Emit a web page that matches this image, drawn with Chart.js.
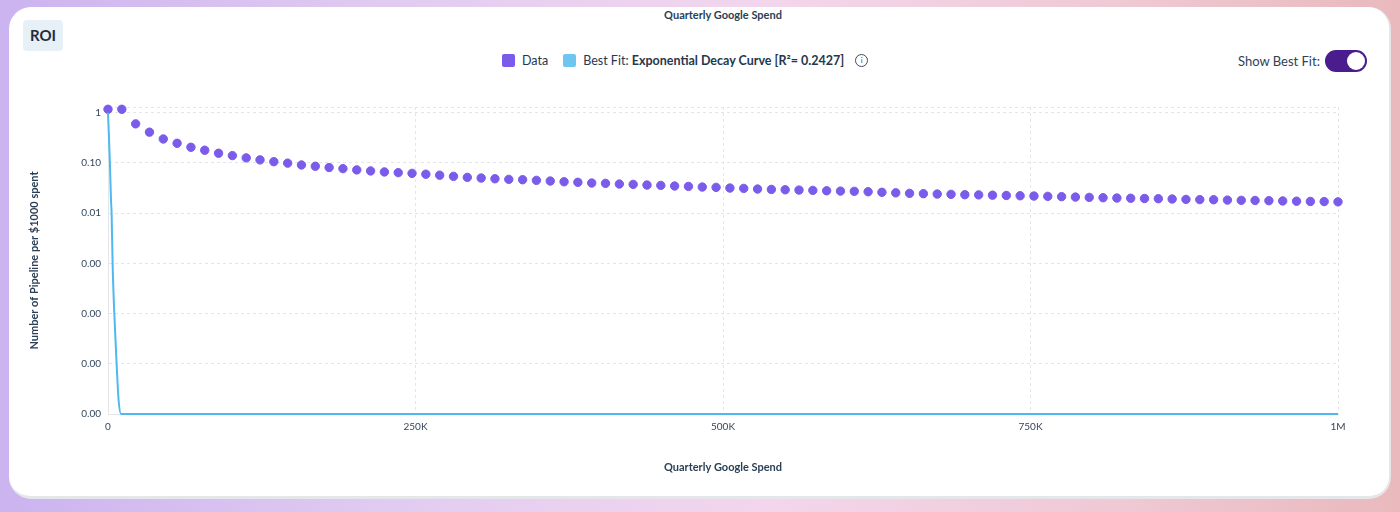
<!DOCTYPE html>
<html>
<head>
<meta charset="utf-8">
<script src="https://cdn.jsdelivr.net/npm/chart.js@4/dist/chart.umd.min.js"></script>
<style>
  html, body { margin: 0; padding: 0; }
  body {
    width: 1400px; height: 512px; position: relative; overflow: hidden;
    font-family: Lato, 'Open Sans', sans-serif; color: #25384d;
    background: linear-gradient(90deg, #cbb4ef 0%, #e2cdf1 30%, #f3d6ec 55%, #efc9d4 80%, #e9b9bd 100%);
  }
  .card {
    position: absolute; left: 9px; top: 7px; width: 1380px; height: 489px;
    background: #fff; border-radius: 22px;
    border-right: 2px solid #e4e6ea; border-bottom: 3px solid #e4e6ea;
  }
  .roi {
    position: absolute; left: 23px; top: 20px; width: 40px; height: 31px;
    background: #e8f0f7; border-radius: 4px;
    font-weight: 700; font-size: 15px; line-height: 31px; text-align: center; color: #1f2d3d;
  }
  .top-title {
    position: absolute; left: 0; width: 1446px; top: 8px; text-align: center;
    font-size: 11px; font-weight: 700; color: #2a3f55;
  }
  .legend {
    position: absolute; top: 53px; left: 502px; font-size: 12.5px; color: #25384d;
    display: flex; align-items: center; white-space: nowrap;
  }
  .sw { width: 13px; height: 13px; border-radius: 2px; display: inline-block; margin-right: 7px; }
  .info {
    display: inline-block; width: 11px; height: 11px; border: 1px solid #3a4d62; border-radius: 50%;
    font-size: 8px; line-height: 11px; text-align: center; margin-left: 11px; color: #3a4d62;
  }
  .toggle-label { position: absolute; top: 53px; left: 1238px; font-size: 13px; color: #2f4256; }
  .toggle {
    position: absolute; left: 1325px; top: 50px; width: 42px; height: 22px;
    background: #4a1c8e; border-radius: 11px;
  }
  .knob {
    position: absolute; right: 2px; top: 2px; width: 18px; height: 18px;
    background: #fff; border-radius: 50%;
  }
  canvas { position: absolute; left: 0; top: 0; }
</style>
</head>
<body>
<div class="card"></div>
<div class="roi">ROI</div>
<div class="top-title">Quarterly Google Spend</div>
<div class="legend">
  <span class="sw" style="background:#7a5bea"></span><span>Data</span>
  <span class="sw" style="background:#6ec6f0;margin-left:15px"></span><span>Best Fit:&nbsp;<b>Exponential Decay Curve [R²= 0.2427]</b></span>
  <span class="info">i</span>
</div>
<div class="toggle-label">Show Best Fit:</div>
<div class="toggle"><div class="knob"></div></div>
<canvas id="chart" width="1400" height="512"></canvas>
<script>
// Quarterly spend (x) for each data point
const spend = [
  0, 11236, 22472, 33708, 44944, 56180, 67416, 78652, 89888, 101124,
  112360, 123596, 134831, 146067, 157303, 168539, 179775, 191011, 202247, 213483,
  224719, 235955, 247191, 258427, 269663, 280899, 292135, 303371, 314607, 325843,
  337079, 348315, 359551, 370787, 382022, 393258, 404494, 415730, 426966, 438202,
  449438, 460674, 471910, 483146, 494382, 505618, 516854, 528090, 539326, 550562,
  561798, 573034, 584270, 595506, 606742, 617978, 629213, 640449, 651685, 662921,
  674157, 685393, 696629, 707865, 719101, 730337, 741573, 752809, 764045, 775281,
  786517, 797753, 808989, 820225, 831461, 842697, 853933, 865169, 876404, 887640,
  898876, 910112, 921348, 932584, 943820, 955056, 966292, 977528, 988764, 1000000
];

// Pipeline per $1000 spent
const pipeline = [
  1.17, 1.17, 0.60, 0.41, 0.30, 0.246, 0.205, 0.179, 0.156, 0.140,
  0.126, 0.115, 0.106, 0.099, 0.091, 0.086, 0.081, 0.077, 0.0726, 0.0693,
  0.0662, 0.0641, 0.0620, 0.0596, 0.0570, 0.0541, 0.0516, 0.0500, 0.0484, 0.0471,
  0.0463, 0.0450, 0.0436, 0.0422, 0.0411, 0.0398, 0.0392, 0.0380, 0.0374, 0.0363,
  0.0357, 0.0347, 0.0341, 0.0331, 0.0326, 0.0316, 0.0311, 0.0302, 0.0297, 0.0292,
  0.0288, 0.0284, 0.0279, 0.0275, 0.0272, 0.0267, 0.0260, 0.0254, 0.0248, 0.0244,
  0.0240, 0.0237, 0.0233, 0.0231, 0.0228, 0.0225, 0.0222, 0.0219, 0.0216, 0.0213,
  0.0209, 0.0206, 0.0203, 0.0200, 0.0198, 0.0196, 0.0194, 0.0191, 0.0188, 0.0186,
  0.0185, 0.0182, 0.0180, 0.0179, 0.0177, 0.0175, 0.0173, 0.0171, 0.0170, 0.0168
];

// Best fit curve
const fitSpend = [0, 1550, 2440, 2930, 3740, 5125, 7000, 8620, 10575, 1000000];
const fitValue = [1, 0.1, 0.018, 0.01, 0.001, 0.0001, 0.00001, 0.0000019, 0.000001, 0.000001];

const yTicks = [0.000001, 0.00001, 0.0001, 0.001, 0.01, 0.1, 1];
const yMax = 1.3;

const toPoints = (xs, ys) => xs.map((x, i) => ({ x, y: ys[i] }));

const tickFont = { family: 'Lato, sans-serif', size: 10 };
const titleFont = { family: 'Lato, sans-serif', size: 11, weight: 'bold' };

new Chart(document.getElementById('chart'), {
  type: 'scatter',
  data: {
    datasets: [
      {
        label: 'Best Fit',
        type: 'line',
        data: toPoints(fitSpend, fitValue),
        borderColor: '#4fb9ef',
        borderWidth: 2,
        pointRadius: 0,
        cubicInterpolationMode: 'monotone',
        clip: false
      },
      {
        label: 'Data',
        data: toPoints(spend, pipeline),
        backgroundColor: '#7a5bea',
        borderColor: '#7a5bea',
        pointRadius: 4.2,
        clip: false
      }
    ]
  },
  options: {
    responsive: false,
    animation: false,
    layout: { padding: { left: 0, top: 107, right: 62, bottom: 0 } },
    plugins: { legend: { display: false }, tooltip: { enabled: false } },
    scales: {
      x: {
        type: 'linear',
        min: 0,
        max: 1000000,
        afterFit: (scale) => { scale.height = 98; },
        ticks: {
          stepSize: 250000,
          padding: 7,
          color: '#34475c',
          font: tickFont,
          maxRotation: 0,
          callback: (v) => v === 0 ? '0' : v >= 1000000 ? (v / 1000000) + 'M' : (v / 1000) + 'K'
        },
        grid: { color: '#e3e5e9', drawTicks: false },
        border: { display: true, color: '#e3e5e9', dash: [3, 3] },
        title: {
          display: true,
          text: 'Quarterly Google Spend',
          color: '#2a3f55',
          font: titleFont,
          padding: { top: 0, bottom: 38 }
        }
      },
      y: {
        type: 'logarithmic',
        min: 0.000001,
        max: yMax,
        afterFit: (scale) => { scale.width = 108; },
        afterBuildTicks: (scale) => {
          scale.ticks = yTicks.concat([yMax]).map(v => ({ value: v }));
        },
        ticks: {
          padding: 7,
          color: '#34475c',
          font: tickFont,
          callback: (v) => v > 1 ? '' : v === 1 ? '1' : Number(v).toFixed(2)
        },
        grid: { color: '#e3e5e9', drawTicks: false },
        border: { display: true, color: '#e3e5e9', dash: [3, 3] },
        title: {
          display: true,
          text: 'Number of Pipeline per $1000 spent',
          color: '#2a3f55',
          font: titleFont,
          padding: { top: 28, bottom: 0 }
        }
      }
    }
  }
});
</script>
</body>
</html>
